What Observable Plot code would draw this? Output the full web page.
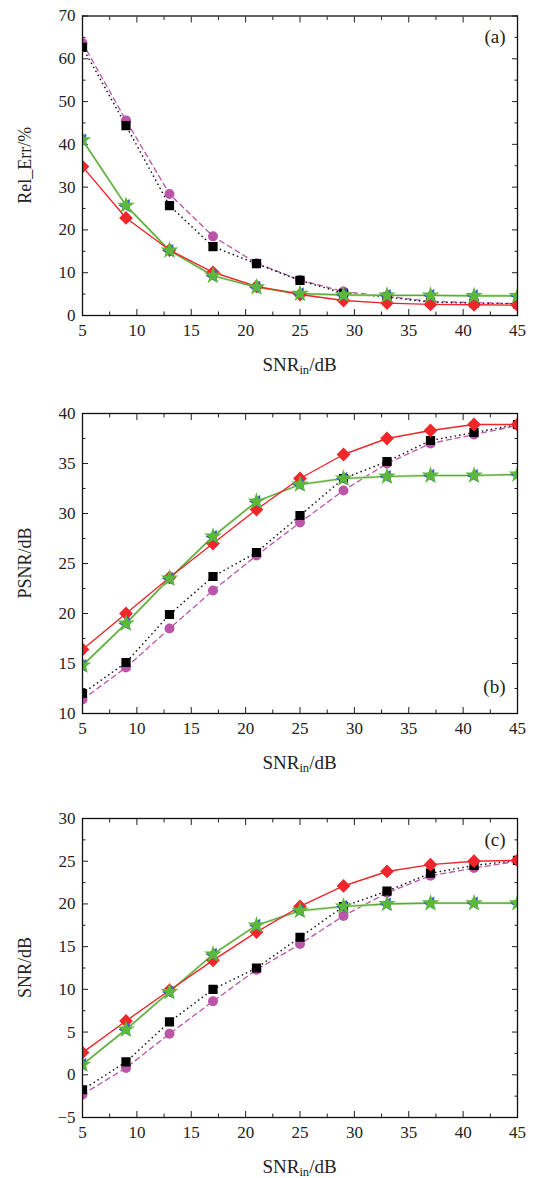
<!DOCTYPE html>
<html><head><meta charset="utf-8">
<script src="https://cdn.jsdelivr.net/npm/d3@7"></script>
<script src="https://cdn.jsdelivr.net/npm/@observablehq/plot@0.6"></script>
<style>body{margin:0;background:#fff}#c>div{display:block;line-height:0}</style>
</head><body><div id="c"></div>
<script>
const snrIn = [5, 9, 13, 17, 21, 25, 29, 33, 37, 41, 45];

// Panel (a) Rel_Err /%
const relErrRed     = [34.8, 22.8, 15.3, 10.1, 6.8, 4.9, 3.5, 2.9, 2.6, 2.5, 2.4];
const relErrBlack   = [62.7, 44.4, 25.7, 16.1, 12.1, 8.2, 5.2, 4.3, 3.1, 2.9, 2.7];
const relErrMagenta = [63.7, 45.6, 28.4, 18.5, 12.2, 8.3, 5.6, 4.5, 3.3, 3.0, 2.8];
const relErrGreen   = [41.0, 25.7, 15.2, 9.3, 6.6, 5.1, 4.8, 4.7, 4.7, 4.6, 4.6];

// Panel (b) PSNR/dB
const psnrRed     = [16.4, 20.0, 23.6, 27.0, 30.4, 33.5, 35.9, 37.5, 38.3, 38.9, 38.9];
const psnrBlack   = [12.0, 15.1, 19.9, 23.7, 26.1, 29.8, 33.5, 35.2, 37.3, 38.1, 38.9];
const psnrMagenta = [11.4, 14.6, 18.5, 22.3, 25.8, 29.1, 32.3, 35.0, 37.0, 37.9, 38.8];
const psnrGreen   = [14.8, 19.0, 23.5, 27.7, 31.2, 32.9, 33.5, 33.7, 33.8, 33.8, 33.9];

// Panel (c) SNR/dB
const snrRed     = [2.6, 6.3, 9.9, 13.4, 16.7, 19.7, 22.1, 23.8, 24.6, 25.0, 25.1];
const snrBlack   = [-1.75, 1.5, 6.2, 10.0, 12.5, 16.1, 19.7, 21.5, 23.6, 24.5, 25.1];
const snrMagenta = [-2.3, 0.8, 4.8, 8.6, 12.3, 15.3, 18.6, 21.3, 23.3, 24.2, 25.0];
const snrGreen   = [1.2, 5.3, 9.7, 14.1, 17.5, 19.2, 19.7, 20.0, 20.1, 20.1, 20.1];

// Tick labels
const xTicks = [5, 10, 15, 20, 25, 30, 35, 40, 45];
const xMinor = [7.5, 12.5, 17.5, 22.5, 27.5, 32.5, 37.5, 42.5];
const aTicks = [0, 10, 20, 30, 40, 50, 60, 70];
const aMinor = [5, 15, 25, 35, 45, 55, 65];
const bTicks = [10, 15, 20, 25, 30, 35, 40];
const bMinor = [12.5, 17.5, 22.5, 27.5, 32.5, 37.5];
const cTicks = [-5, 0, 5, 10, 15, 20, 25, 30];
const cMinor = [-2.5, 2.5, 7.5, 12.5, 17.5, 22.5, 27.5];

const panels = [
  {tag: "(a)", ylabel: "Rel_Err/%", domain: [0, 70], ticks: aTicks, minor: aMinor,
   red: relErrRed, black: relErrBlack, magenta: relErrMagenta, green: relErrGreen,
   top: 15.5, bottom: 315, height: 400, tagTop: true},
  {tag: "(b)", ylabel: "PSNR/dB", domain: [10, 40], ticks: bTicks, minor: bMinor,
   red: psnrRed, black: psnrBlack, magenta: psnrMagenta, green: psnrGreen,
   top: 13, bottom: 313, height: 400, tagTop: false},
  {tag: "(c)", ylabel: "SNR/dB", domain: [-5, 30], ticks: cTicks, minor: cMinor,
   red: snrRed, black: snrBlack, magenta: snrMagenta, green: snrGreen,
   top: 18, bottom: 317, height: 378, tagTop: true}
];

const FONT = "'Liberation Serif', 'DejaVu Serif', serif";
const fmt = d => d < 0 ? "\u2212" + (-d) : String(d);

function rows(ys) { return snrIn.map((x, i) => ({x, y: ys[i]})); }

let clipId = 0;
function panel(cfg) {
  const R = rows(cfg.red), K = rows(cfg.black), M = rows(cfg.magenta), G = rows(cfg.green);
  const plot = Plot.plot({
    width: 541, height: cfg.height,
    marginLeft: 82, marginRight: 24, marginTop: cfg.top, marginBottom: cfg.height - cfg.bottom,
    style: {fontFamily: FONT, fontSize: "17px", color: "#222", background: "#fff", overflow: "visible"},
    x: {domain: [5, 45]},
    y: {domain: cfg.domain},
    marks: [
      // tick labels
      Plot.axisX(xTicks, {anchor: "bottom", tickSize: 0, tickPadding: 8, label: null, fontSize: 17}),
      Plot.axisY(cfg.ticks, {anchor: "left", tickSize: 0, tickPadding: 7, label: null, tickFormat: fmt, fontSize: 17}),
      // inward ticks, all four sides
      Plot.axisX(xTicks, {anchor: "bottom", tickSize: -6, fill: "none", label: null, stroke: "#222"}),
      Plot.axisX(xTicks, {anchor: "top", tickSize: -6, fill: "none", label: null, stroke: "#222"}),
      Plot.axisX(xMinor, {anchor: "bottom", tickSize: -3.5, fill: "none", label: null, stroke: "#222"}),
      Plot.axisX(xMinor, {anchor: "top", tickSize: -3.5, fill: "none", label: null, stroke: "#222"}),
      Plot.axisY(cfg.ticks, {anchor: "left", tickSize: -6, fill: "none", label: null, stroke: "#222"}),
      Plot.axisY(cfg.ticks, {anchor: "right", tickSize: -6, fill: "none", label: null, stroke: "#222"}),
      Plot.axisY(cfg.minor, {anchor: "left", tickSize: -3.5, fill: "none", label: null, stroke: "#222"}),
      Plot.axisY(cfg.minor, {anchor: "right", tickSize: -3.5, fill: "none", label: null, stroke: "#222"}),
      // series
      Plot.line(M, {x: "x", y: "y", stroke: "#bb55aa", strokeWidth: 1.3, strokeDasharray: "5,4"}),
      Plot.line(K, {x: "x", y: "y", stroke: "#111", strokeWidth: 1.6, strokeDasharray: "0.1,4.5", strokeLinecap: "round"}),
      Plot.line(G, {x: "x", y: "y", stroke: "#b8e0a0", strokeWidth: 2.4}),
      Plot.line(G, {x: "x", y: "y", stroke: "#5aa83c", strokeWidth: 1.2}),
      Plot.line(R, {x: "x", y: "y", stroke: "#f0262a", strokeWidth: 1.4}),
      Plot.dot(M, {x: "x", y: "y", fill: "#bb55aa", r: 5}),
      Plot.dot(K, {x: "x", y: "y", fill: "#000", symbol: "square", r: 5.2}),
      Plot.dot(R, {x: "x", y: "y", fill: "#f0262a", symbol: "diamond2", r: 6.2}),
      Plot.dot(G, {x: "x", y: "y", fill: "#3a5fc8", symbol: "triangle", r: 4.8, rotate: -90}),
      Plot.dot(G, {x: "x", y: "y", fill: "#5cb83a", symbol: "star", r: 5.6}),
      Plot.frame({stroke: "#111", strokeWidth: 1.3}),
      Plot.text([cfg.tag], {frameAnchor: cfg.tagTop ? "top-right" : "bottom-right", lineAnchor: "middle",
        dx: -12, dy: cfg.tagTop ? 21 : -27, fontSize: 19, textAnchor: "end", fill: "#222"})
    ]
  });
  const svg = d3.select(plot);
  // clip the data marks to the frame, as in the reference
  const id = "clipf" + (clipId++);
  svg.insert("defs", ":first-child").append("clipPath").attr("id", id)
    .append("rect").attr("x", 82).attr("y", cfg.top)
    .attr("width", 517 - 82).attr("height", cfg.bottom - cfg.top);
  svg.selectAll('g[aria-label="dot"], g[aria-label="line"]').attr("clip-path", `url(#${id})`);

  const xl = svg.append("text").attr("x", (82 + 517) / 2).attr("y", cfg.bottom + 56)
    .attr("text-anchor", "middle").attr("font-size", 19).attr("fill", "#222").attr("font-family", FONT);
  xl.append("tspan").text("SNR");
  xl.append("tspan").attr("font-size", 12.5).attr("dy", 3).text("in");
  xl.append("tspan").attr("dy", -3).text("/dB");
  svg.append("text").attr("transform", `translate(31,${(cfg.top + cfg.bottom) / 2}) rotate(-90)`)
    .attr("text-anchor", "middle").attr("font-size", 18).attr("fill", "#222").attr("font-family", FONT)
    .text(cfg.ylabel);
  return plot;
}

const root = document.getElementById("c");
for (const p of panels) {
  const d = document.createElement("div");
  d.style.height = p.height + "px";
  d.appendChild(panel(p));
  root.appendChild(d);
}
</script>
</body></html>
